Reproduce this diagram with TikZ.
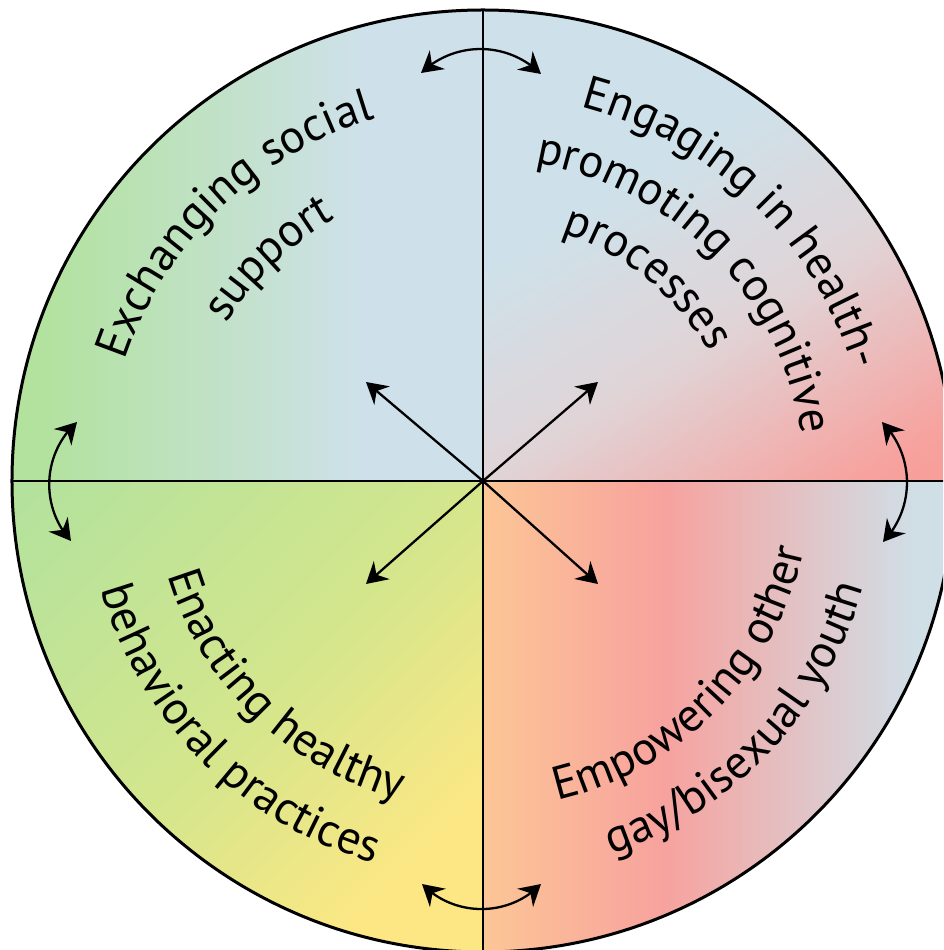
\documentclass[tikz,border=0pt]{standalone}
\usepackage{fontspec}
\setmainfont{PT Sans}
\usetikzlibrary{arrows.meta,bending,decorations.text}

\definecolor{qgreen}{RGB}{178,226,158}
\definecolor{qblue}{RGB}{206,225,234}
\definecolor{qgrey}{RGB}{224,212,215}
\definecolor{qpink}{RGB}{247,162,158}
\definecolor{qpinkdeep}{RGB}{247,156,148}
\definecolor{qorange}{RGB}{252,198,150}
\definecolor{qlime}{RGB}{212,230,140}
\definecolor{qyellow}{RGB}{253,231,132}
\definecolor{qsteel}{RGB}{208,222,230}

% quadrant gradients; the middle 50bp of each spans the shaded square
\pgfdeclarehorizontalshading{tlshade}{100bp}{color(0bp)=(qgreen); color(28bp)=(qgreen); color(44bp)=(qblue); color(100bp)=(qblue)}
\pgfdeclarehorizontalshading{trshade}{100bp}{color(0bp)=(qblue); color(41bp)=(qblue); color(50bp)=(qgrey); color(60bp)=(qpink); color(64bp)=(qpinkdeep); color(100bp)=(qpinkdeep)}
\pgfdeclarehorizontalshading{blshade}{100bp}{color(0bp)=(qgreen); color(33.5bp)=(qgreen); color(50bp)=(qlime); color(61.5bp)=(qyellow); color(100bp)=(qyellow)}
\pgfdeclarehorizontalshading{brshade}{100bp}{color(0bp)=(qorange); color(50bp)=(qorange); color(59bp)=(qpink); color(71.5bp)=(qsteel); color(100bp)=(qsteel)}

\newcommand\qfont{\fontsize{47}{47}\selectfont}

\begin{document}
\begin{tikzpicture}[x=1pt,y=1pt,
  rim/.style={line width=3pt},
  divider/.style={line width=2.4pt},
  headtip/.tip={Stealth[length=21pt,width=24pt,inset=7pt]},
  link/.style={line width=2.3pt,-headtip},
  swap/.style={line width=2.3pt,headtip-headtip},
  arctext/.style={decorate,decoration={text along path,text align=center,text={|\qfont|#1}}}
]
\def\R{471}
\useasboundingbox (-483,-469) rectangle (460,481);
\clip (-483,-469) rectangle (460,481);

\coordinate (O) at (0,0);

% coloured quadrants
\begin{scope}
  \clip (O) -- (90:\R) arc[start angle=90,end angle=180,radius=\R] -- cycle;
  \shade[shading=tlshade] (-500,-500) rectangle (500,500);
\end{scope}
\begin{scope}
  \clip (O) -- (0:\R) arc[start angle=0,end angle=90,radius=\R] -- cycle;
  \shade[shading=trshade,shading angle=-58] (-500,-500) rectangle (500,500);
\end{scope}
\begin{scope}
  \clip (O) -- (180:\R) arc[start angle=180,end angle=270,radius=\R] -- cycle;
  \shade[shading=blshade,shading angle=-45] (-500,-500) rectangle (500,500);
\end{scope}
\begin{scope}
  \clip (O) -- (270:\R) arc[start angle=270,end angle=360,radius=\R] -- cycle;
  \shade[shading=brshade] (-500,-500) rectangle (500,500);
\end{scope}

% outline and dividers
\draw[rim] (O) circle[radius=\R];
\draw[divider] (-\R,0) -- (\R,0);
\draw[divider] (0,\R) -- (0,-\R);

% arrows out of the centre
\coordinate (aTL) at (-117,99);
\coordinate (aTR) at (115,99);
\coordinate (aBL) at (-117,-103);
\coordinate (aBR) at (115,-103);
\draw[link] (O) -- (aTL);
\draw[link] (O) -- (aTR);
\draw[link] (O) -- (aBL);
\draw[link] (O) -- (aBR);

% curved two-way arrows across the dividers
\coordinate (t1) at (-62,408);
\coordinate (t2) at (58,407);
\coordinate (b1) at (-61,-403);
\coordinate (b2) at (58,-403);
\coordinate (l1) at (-406,59);
\coordinate (l2) at (-412,-60);
\coordinate (r1) at (399,59);
\coordinate (r2) at (400,-61);
\draw[swap] (t1) to[bend left=44] (t2);
\draw[swap] (b1) to[bend right=46] (b2);
\draw[swap] (l1) to[bend right=45] (l2);
\draw[swap] (r1) to[bend left=44] (r2);

% labels set along arcs
\path[arctext={Exchanging social}] (204:378) arc[start angle=204,end angle=64,radius=378];
\path[arctext={support}] (204:301) arc[start angle=204,end angle=64,radius=301];

\path[arctext={Engaging in health-}] (116:387) arc[start angle=116,end angle=-24,radius=387];
\path[arctext={promoting cognitive}] (114.5:322) arc[start angle=114.5,end angle=-25.5,radius=322];
\path[arctext={processes}] (121:260) arc[start angle=121,end angle=-19,radius=260];

\path[arctext={Enacting healthy}] (156:329) arc[start angle=156,end angle=296,radius=329];
\path[arctext={behavioral practices}] (155:397) arc[start angle=155,end angle=295,radius=397];

\path[arctext={Empowering other}] (245.5:328) arc[start angle=245.5,end angle=385.5,radius=328];
\path[arctext={gay/bisexual youth}] (246.7:395) arc[start angle=246.7,end angle=386.7,radius=395];
\end{tikzpicture}
\end{document}
